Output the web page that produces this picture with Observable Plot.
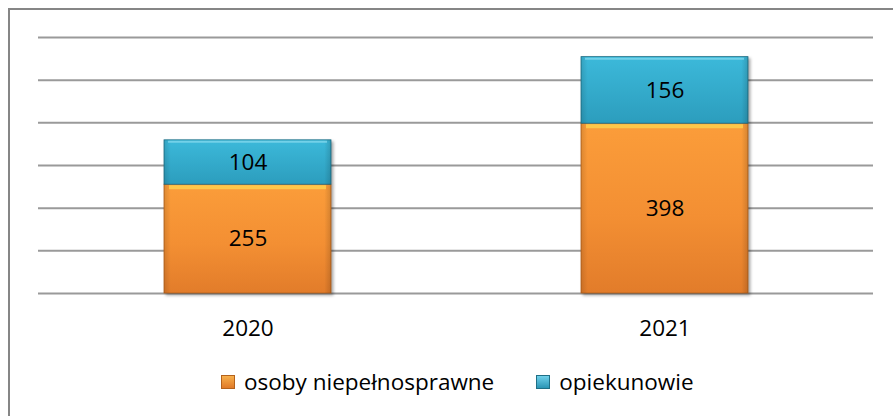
<!DOCTYPE html>
<html>
<head>
<meta charset="utf-8">
<script src="https://cdn.jsdelivr.net/npm/d3@7"></script>
<script src="https://cdn.jsdelivr.net/npm/@observablehq/plot@0.6"></script>
<style>
  html, body { margin: 0; padding: 0; background: #fff; width: 893px; height: 416px; overflow: hidden; font-family: "Open Sans", sans-serif; }
  #frame { position: absolute; left: 8px; top: 8px; width: 900px; height: 420px; border-left: 2px solid #868686; border-top: 2px solid #868686; box-sizing: border-box; }
  #chart { position: absolute; left: 0; top: 0; }
  #legend { position: absolute; left: 221px; top: 366px; display: flex; align-items: center; font-size: 22.5px; color: #000; white-space: nowrap; }
  .item { display: flex; align-items: center; }
  .sw { width: 14px; height: 14px; margin-right: 9px; box-sizing: border-box; }
</style>
</head>
<body>
<div id="frame"></div>
<div id="chart"></div>
<div id="legend"></div>
<script>
const years = ["2020", "2021"];
const seriesNames = ["osoby niepełnosprawne", "opiekunowie"];
const disabled = [255, 398];
const caregivers = [104, 156];
const yTicks = [0, 100, 200, 300, 400, 500, 600];
const colors = {"osoby niepełnosprawne": "url(#gOrange)", "opiekunowie": "url(#gBlue)"};

const data = [];
years.forEach((yr, i) => {
  data.push({year: yr, series: seriesNames[0], value: disabled[i], base: 0});
  data.push({year: yr, series: seriesNames[1], value: caregivers[i], base: disabled[i]});
});
data.forEach(d => { d.top = d.base + d.value; d.mid = d.base + d.value / 2; });

const chart = Plot.plot({
  width: 893,
  height: 345,
  marginLeft: 38,
  marginRight: 20,
  marginTop: 37,
  marginBottom: 52,
  style: {fontFamily: "Open Sans, sans-serif", background: "transparent"},
  x: {domain: years, padding: 0.6, paddingOuter: 0.3, label: null},
  y: {domain: [0, 600], label: null, axis: null},
  marks: [
    Plot.ruleY(yTicks, {stroke: "#9a9a9a", strokeWidth: 2}),
    Plot.barY(data, {x: "year", y1: "base", y2: "top", fill: d => colors[d.series], stroke: d => d.series === seriesNames[0] ? "#b4621c" : "#1f6f86", strokeWidth: 0.8}),
    Plot.barY(data, {x: "year", y1: "base", y2: "top", fill: "url(#gEdge)"}),
    Plot.tickY(data.filter(d => d.series === seriesNames[0]), {x: "year", y: "top", stroke: "#ffd650", strokeOpacity: 0.75, strokeWidth: 4, dy: 2.5, inset: 5}),
    Plot.tickY(data.filter(d => d.series === seriesNames[1]), {x: "year", y: "top", stroke: "#8adcf0", strokeOpacity: 0.7, strokeWidth: 2, dy: 1.5, inset: 4}),
    Plot.text(data, {x: "year", y: "mid", text: d => String(d.value), fontSize: 22.5, fill: "#000"}),
    Plot.axisX({tickSize: 0, tickPadding: 27, fontSize: 22.5, fill: "#000"})
  ]
});

const svg = d3.select(chart);
const defs = svg.insert("defs", ":first-child");
const gO = defs.append("linearGradient").attr("id", "gOrange").attr("x1", 0).attr("y1", 0).attr("x2", 0).attr("y2", 1);
gO.append("stop").attr("offset", "0%").attr("stop-color", "#fb9d3a");
gO.append("stop").attr("offset", "55%").attr("stop-color", "#f38f33");
gO.append("stop").attr("offset", "100%").attr("stop-color", "#e27c2a");
const gB = defs.append("linearGradient").attr("id", "gBlue").attr("x1", 0).attr("y1", 0).attr("x2", 0).attr("y2", 1);
gB.append("stop").attr("offset", "0%").attr("stop-color", "#3cb9da");
gB.append("stop").attr("offset", "100%").attr("stop-color", "#2c9dbd");
const gE = defs.append("linearGradient").attr("id", "gEdge").attr("x1", 0).attr("y1", 0).attr("x2", 1).attr("y2", 0);
gE.append("stop").attr("offset", "0%").attr("stop-color", "#000").attr("stop-opacity", 0.12);
gE.append("stop").attr("offset", "4%").attr("stop-color", "#000").attr("stop-opacity", 0);
gE.append("stop").attr("offset", "96%").attr("stop-color", "#000").attr("stop-opacity", 0);
gE.append("stop").attr("offset", "100%").attr("stop-color", "#000").attr("stop-opacity", 0.15);
svg.selectAll("g[aria-label='bar']").filter((d, i) => i === 0).style("filter", "drop-shadow(2px 2px 1.5px rgba(0,0,0,0.35))");

document.getElementById("chart").appendChild(chart);

const legend = document.getElementById("legend");
const swatchCss = {
  "osoby niepełnosprawne": "background: linear-gradient(#f7b04c, #e07a28); border: 1px solid #b4621c;",
  "opiekunowie": "background: linear-gradient(#6fd0ea, #2a95b5); border: 1px solid #1f6f86;"
};
seriesNames.forEach((s, i) => {
  const it = document.createElement("div");
  it.className = "item";
  if (i > 0) it.style.marginLeft = "42px";
  it.innerHTML = `<div class="sw" style="${swatchCss[s]}"></div><span>${s}</span>`;
  legend.appendChild(it);
});
</script>
</body>
</html>
